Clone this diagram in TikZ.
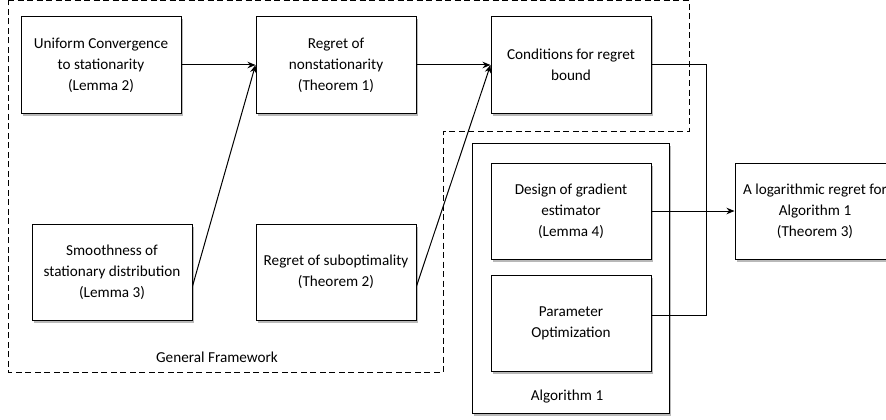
\documentclass[tikz,border=0pt]{standalone}
\usepackage{fontspec}
\setmainfont{Carlito}
\usetikzlibrary{arrows.meta,positioning,shadows}

\begin{document}
\begin{tikzpicture}[
    x=1pt, y=-1pt,
    node distance=74pt,
    box/.style={rectangle, draw=black, line width=1pt, fill=white, minimum width=160pt, minimum height=96pt, align=center, font=\fontsize{15.2}{21}\selectfont, drop shadow={shadow xshift=1.5pt, shadow yshift=-2.5pt, fill=black!55, opacity=0.5}},
    frame/.style={draw=black, line width=1pt, dash pattern=on 6pt off 3.5pt},
    arrow/.style={->, line width=1pt, >={Stealth[length=8pt, width=6.5pt]}},
    link/.style={line width=1pt},
    caption/.style={font=\fontsize{15.2}{18}\selectfont}
]
    \useasboundingbox (0,0) rectangle (886,420);

    % General Framework region
    \draw[frame] (8,1) -- (689,1) -- (689,131) -- (443,131) -- (443,372) -- (8,372) -- cycle;

    % Algorithm 1 container
    \draw[line width=1pt, fill=white, drop shadow={shadow xshift=1.5pt, shadow yshift=-2.5pt, fill=black!55, opacity=0.5}] (472,143) rectangle (669,413);

    % Top row
    \node[box] (unif) at (101,65) {Uniform Convergence\\to stationarity\\(Lemma 2)};
    \node[box, right=of unif] (nonstat) {Regret of\\nonstationarity\\(Theorem 1)};
    \node[box, right=of nonstat] (cond) {Conditions for regret\\bound};

    % Bottom row
    \node[box, below=110pt of nonstat] (subopt) {Regret of suboptimality\\(Theorem 2)};
    \node[box, left=63pt of subopt] (smooth) {Smoothness of\\stationary distribution\\(Lemma 3)};

    % Algorithm 1 parts
    \node[box, below=49pt of cond] (design) {Design of gradient\\estimator\\(Lemma 4)};
    \node[box, below=15pt of design] (param) {Parameter\\Optimization};
    \node[box, right=83pt of design] (logreg) {A logarithmic regret for\\Algorithm 1\\(Theorem 3)};

    % Captions
    \node[caption] (gf) at (217,357) {General Framework};
    \node[caption] (alg) at (567,397) {Algorithm 1};

    % Arrows
    \coordinate (turn) at (706,65);
    \draw[arrow] (unif) -- (nonstat);
    \draw[arrow] (smooth.-10) -- (nonstat.west);
    \draw[arrow] (nonstat) -- (cond);
    \draw[arrow] (subopt.-10) -- (cond.west);
    \draw[link] (cond.east) -- (turn) |- (param.5);
    \draw[arrow] (design) -- (logreg);
\end{tikzpicture}
\end{document}
